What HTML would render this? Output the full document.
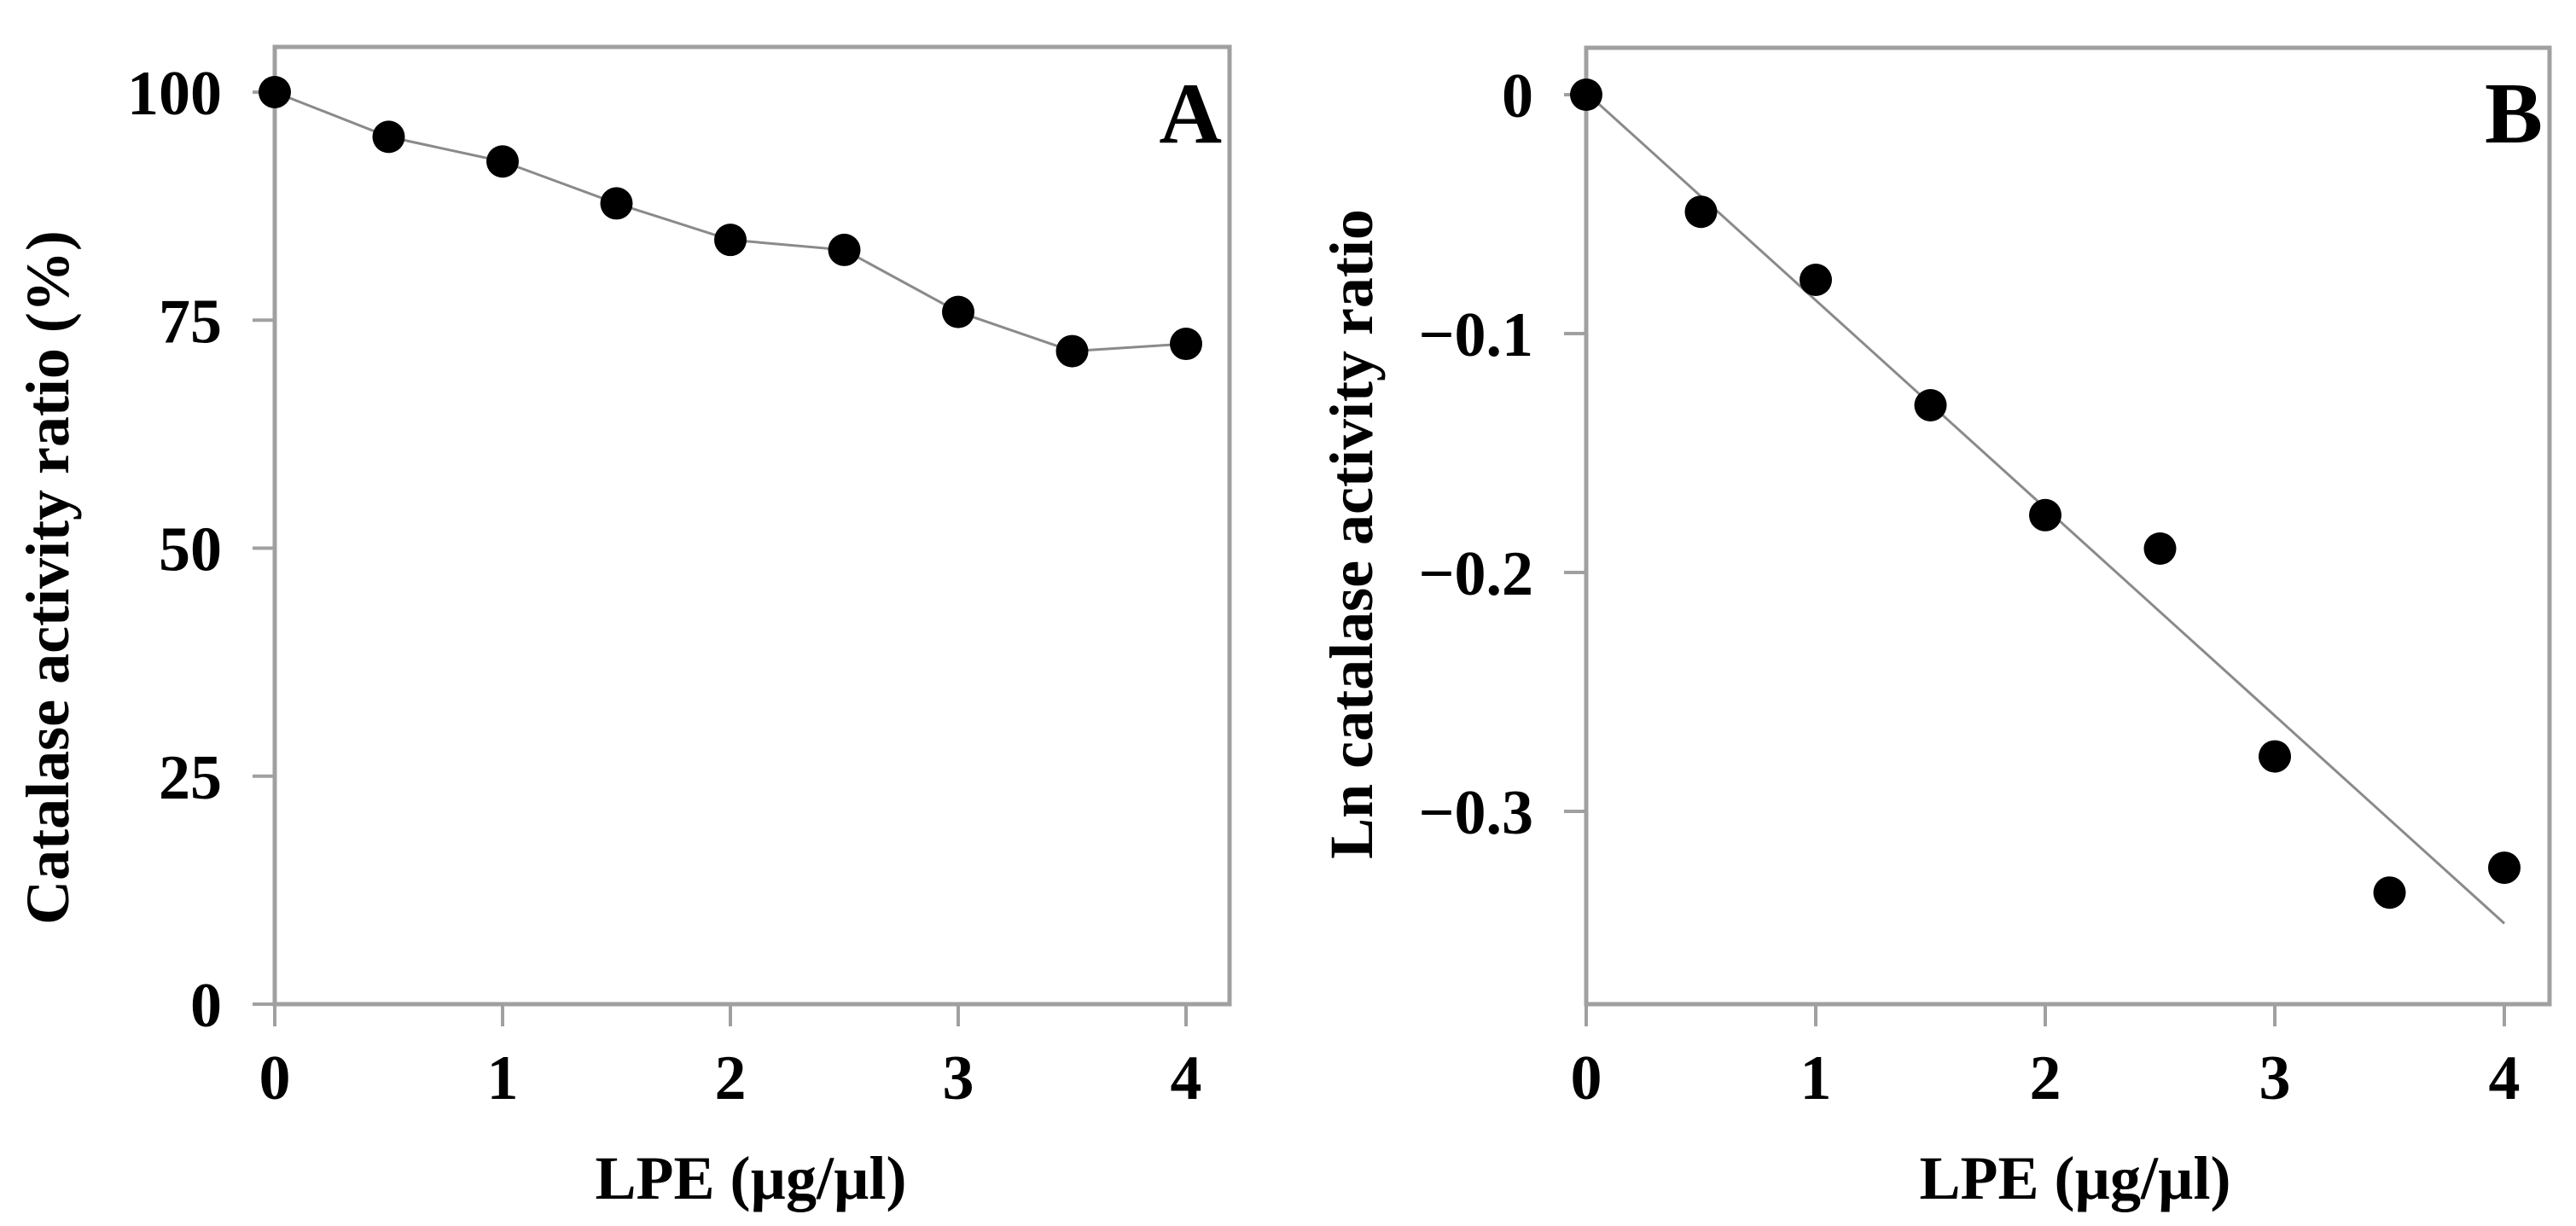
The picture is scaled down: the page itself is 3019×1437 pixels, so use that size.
<!DOCTYPE html>
<html><head><meta charset="utf-8"><style>
html,body{margin:0;padding:0;background:#fff;}
svg{display:block;}
text{font-family:"Liberation Serif",serif;font-weight:bold;fill:#000;}
</style></head><body>
<svg id="chart" width="3019" height="1437" viewBox="0 0 3019 1437" xmlns="http://www.w3.org/2000/svg"></svg>
<script>
const xValues = [0, 0.5, 1, 1.5, 2, 2.5, 3, 3.5, 4];
const activityPct = [100, 95.1, 92.4, 87.8, 83.8, 82.7, 75.9, 71.6, 72.4];
const lnActivity = [0, -0.049, -0.0775, -0.130, -0.176, -0.190, -0.277, -0.334, -0.3236];
const xTicks = [0, 1, 2, 3, 4];
const yTicksA = [0, 25, 50, 75, 100];
const yTicksB = [0, -0.1, -0.2, -0.3];
const yTickLabelsB = ["0", "\u22120.1", "\u22120.2", "\u22120.3"];

const NS = "http://www.w3.org/2000/svg";
const svg = document.getElementById('chart');
function mk(tag, attrs, parent) {
  const e = document.createElementNS(NS, tag);
  for (const k in attrs) e.setAttribute(k, attrs[k]);
  (parent || svg).appendChild(e);
  return e;
}

const xA = v => 322 + v * 267;
const yA = v => 1177 - v * 10.69;
const xB = v => 1859 + v * 269;
const yB = v => 111 - v * 2800;

function panel(name, xs, ys, left, right, top, bottom, yTicks, yLabels, letter, letterX) {
  const g = mk('g', {});
  
  
  const frame = mk('rect', {x: left, y: top, width: right - left, height: bottom - top, fill: 'none', stroke: '#a0a0a0', 'stroke-width': 5}, g);
  
  
  xTicks.forEach(t => {
    const l = mk('line', {x1: xs(t), x2: xs(t), y1: bottom, y2: bottom + 26, stroke: '#a0a0a0', 'stroke-width': 4}, g);
    
    
    const tx = mk('text', {x: xs(t), y: 1288, 'text-anchor': 'middle', 'font-size': 74}, g);
    tx.textContent = String(t);
    
    
  });
  yTicks.forEach((t, i) => {
    const l = mk('line', {x1: left - 26, x2: left, y1: ys(t), y2: ys(t), stroke: '#a0a0a0', 'stroke-width': 4}, g);
    
    
    const tx = mk('text', {x: left - 62, y: ys(t) + 26, 'text-anchor': 'end', 'font-size': 74}, g);
    tx.textContent = yLabels[i];
    
    
  });
  const lt = mk('text', {x: letterX, y: 167, 'text-anchor': 'end', 'font-size': 102}, g);
  lt.textContent = letter;
  
  
  return g;
}

const gA = panel('a', xA, yA, 322, 1441, 55, 1177, yTicksA, yTicksA.map(String), 'A', 1432);
const gB = panel('b', xB, yB, 1859, 2988, 56, 1177, yTicksB, yTickLabelsB, 'B', 2980);

const lineA = mk('polyline', {points: xValues.map((x, i) => xA(x) + ',' + yA(activityPct[i])).join(' '), fill: 'none', stroke: '#8a8a8a', 'stroke-width': 3}, gA);


xValues.forEach((x, i) => {
  const c = mk('circle', {cx: xA(x), cy: yA(activityPct[i]), r: 19, fill: '#000'}, gA);
  
  
});

const n = xValues.length;
const mx = xValues.reduce((a, b) => a + b, 0) / n;
const my = lnActivity.reduce((a, b) => a + b, 0) / n;
let sxy = 0, sxx = 0;
xValues.forEach((x, i) => { sxy += (x - mx) * (lnActivity[i] - my); sxx += (x - mx) * (x - mx); });
const slope = sxy / sxx, icpt = my - slope * mx;
const x0 = xValues[0], x1 = xValues[n - 1];
const fit = mk('line', {x1: xB(x0), y1: yB(icpt + slope * x0), x2: xB(x1), y2: yB(icpt + slope * x1), stroke: '#8a8a8a', 'stroke-width': 3}, gB);


xValues.forEach((x, i) => {
  const c = mk('circle', {cx: xB(x), cy: yB(lnActivity[i]), r: 19, fill: '#000'}, gB);
  
  
});

const tA = mk('text', {x: 880, y: 1405, 'text-anchor': 'middle', 'font-size': 72});
tA.textContent = 'LPE (\u00b5g/\u00b5l)';


const tB = mk('text', {x: 2432, y: 1405, 'text-anchor': 'middle', 'font-size': 72});
tB.textContent = 'LPE (\u00b5g/\u00b5l)';


const yTA = mk('text', {x: 0, y: 0, 'text-anchor': 'middle', 'font-size': 72, transform: 'translate(80,677) rotate(-90)'});
yTA.textContent = 'Catalase activity ratio (%)';


const yTB = mk('text', {x: 0, y: 0, 'text-anchor': 'middle', 'font-size': 72, transform: 'translate(1608,626) rotate(-90)'});
yTB.textContent = 'Ln catalase activity ratio';


</script>
</body></html>
